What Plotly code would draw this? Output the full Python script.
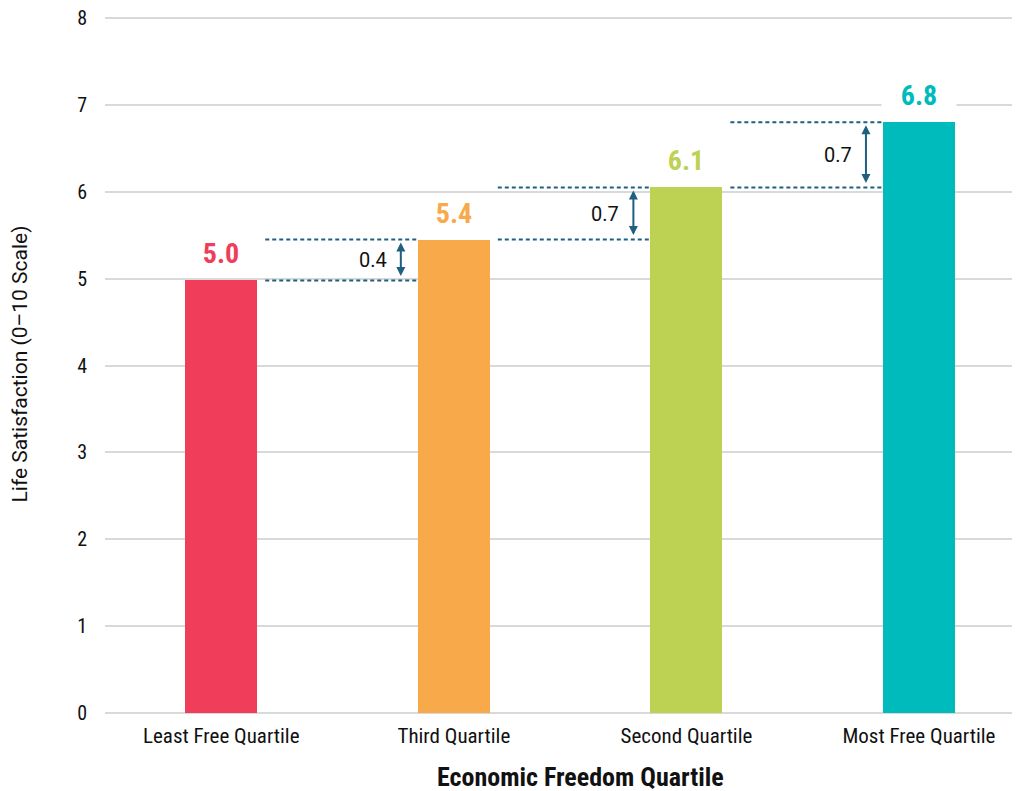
import plotly.graph_objects as go

categories = ["Least Free Quartile", "Third Quartile", "Second Quartile", "Most Free Quartile"]
values = [4.98, 5.45, 6.05, 6.80]
value_labels = ["5.0", "5.4", "6.1", "6.8"]
diff_labels = ["0.4", "0.7", "0.7"]
colors = ["#F03E5A", "#F8AA4B", "#BDD153", "#00BBBB"]
y_ticks = [0, 1, 2, 3, 4, 5, 6, 7, 8]
x_title = "Economic Freedom Quartile"
y_title = "Life Satisfaction (0–10 Scale)"

BAR_W = 0.31
TICK_FONT = "Roboto Condensed, Roboto, sans-serif"
DASH_COLOR = "#1F5F80"
TEXT = "#111111"

fig = go.Figure()
fig.add_trace(go.Bar(
    x=list(range(len(categories))), y=values, marker=dict(color=colors, line=dict(width=0)),
    width=BAR_W, hoverinfo="skip", showlegend=False,
))

annotations = []
shapes = []
for i, (v, lab, c) in enumerate(zip(values, value_labels, colors)):
    annotations.append(dict(
        x=i, y=v, xref="x", yref="y", text="<b>%s</b>" % lab, showarrow=False,
        yanchor="bottom", yshift=8, font=dict(family=TICK_FONT, size=28, color=c),
        bgcolor="white", width=72,
    ))

gap = 0.034
for k, d in enumerate(diff_labels):
    i = k + 1
    lo, hi = values[i - 1], values[i]
    x0 = (i - 1) + BAR_W / 2 + gap
    x1 = i - BAR_W / 2
    for yy in (lo, hi):
        shapes.append(dict(type="line", xref="x", yref="y", x0=x0, x1=x1, y0=yy, y1=yy,
                           line=dict(color=DASH_COLOR, width=2, dash="4px,3px")))
    ax = i - 0.228
    annotations.append(dict(
        x=ax, y=hi, ax=ax, ay=lo, xref="x", yref="y", axref="x", ayref="y",
        showarrow=True, arrowhead=2, arrowside="end+start", arrowsize=0.9, arrowwidth=2,
        arrowcolor=DASH_COLOR, standoff=3, startstandoff=3, text="",
    ))
    annotations.append(dict(
        x=ax, y=(lo + hi) / 2, xref="x", yref="y", text=d, showarrow=False,
        xanchor="right", xshift=-12, font=dict(family="Roboto, sans-serif", size=20, color=TEXT),
    ))

# x-axis title (as annotation so it is not constrained by the margin)
annotations.append(dict(
    x=1.545, y=0, xref="x", yref="paper", text="<b>%s</b>" % x_title, showarrow=False,
    xanchor="center", yanchor="middle", yshift=-64,
    font=dict(family=TICK_FONT, size=26, color=TEXT),
))

fig.update_layout(
    width=1009, height=783,
    margin=dict(l=97, r=5, t=7, b=78),
    plot_bgcolor="white", paper_bgcolor="white",
    bargap=0,
    annotations=annotations, shapes=shapes,
    xaxis=dict(
        range=[-0.5, 3.4], tickmode="array", tickvals=list(range(len(categories))),
        ticktext=categories, showgrid=False, zeroline=False, showline=False,
        tickfont=dict(family=TICK_FONT, size=21, color=TEXT), ticks="",
        ticklabelstandoff=8, automargin=False,
    ),
    yaxis=dict(
        range=[0, 8.035], tickmode="array", tickvals=y_ticks, ticktext=[str(t) for t in y_ticks],
        showgrid=True, gridcolor="#D9D9D9", gridwidth=2,
        zeroline=True, zerolinecolor="#D9D9D9", zerolinewidth=2, showline=False,
        tickfont=dict(family=TICK_FONT, size=20, color=TEXT), ticks="",
        ticklabelstandoff=17, automargin=False, ticklabeloverflow="allow",
        title=dict(text=y_title,
                   font=dict(family="Roboto, sans-serif", size=21, color=TEXT), standoff=47),
    ),
)

fig.write_html("out.html")
